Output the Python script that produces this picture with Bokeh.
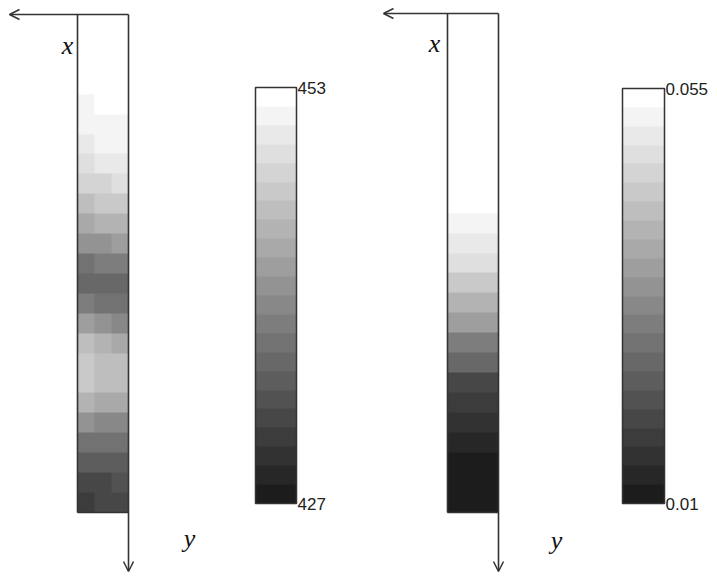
import numpy as np
from bokeh.plotting import figure
from bokeh.models import (Range1d, LinearColorMapper, ColorBar, FixedTicker, Arrow,
                          OpenHead, Label)
from bokeh.embed import file_html
from bokeh.resources import INLINE

# ---- data, rows from top (x axis) to bottom ----
left_range = [427, 453]
left_col_a = [453.0, 453.0, 452.8, 452.0, 451.6, 451.0, 450.2, 449.0, 447.3, 445.2, 442.6, 440.0,
              437.3, 436.4, 438.2, 441.6, 445.0, 446.8, 446.3, 443.8, 440.1, 436.8, 434.3, 432.7, 431.7]
left_col_b = [453.0, 453.0, 453.0, 452.2, 452.0, 451.5, 450.8, 449.7, 448.1, 446.2, 443.6, 440.9,
              437.9, 436.3, 437.4, 440.5, 443.9, 445.8, 445.6, 443.3, 439.9, 436.8, 434.5, 432.9, 431.8]
left_col_c = [453.0, 453.0, 453.0, 452.5, 452.3, 451.8, 451.2, 450.3, 448.8, 446.9, 444.4, 441.5,
              438.4, 436.3, 436.8, 439.5, 442.8, 444.8, 444.9, 442.8, 439.6, 436.7, 434.6, 433.1, 431.9]

right_range = [0.01, 0.055]
right_col = [0.055, 0.055, 0.055, 0.055, 0.055, 0.055, 0.055, 0.055, 0.0544, 0.0530, 0.0517, 0.0497,
             0.0471, 0.0438, 0.0399, 0.0348, 0.0295, 0.0245, 0.0202, 0.0171, 0.0147, 0.0128, 0.0114,
             0.0108, 0.0104]

# ---- styles ----
levels = np.linspace(28, 255, 22).round().astype(int)
palette = ["#%02x%02x%02x" % (g, g, g) for g in levels]
LINE = "#333333"
W, H = 709, 573

p = figure(width=W, height=H, output_backend="svg", toolbar_location=None,
           x_range=Range1d(0, W), y_range=Range1d(H, 0), min_border=0)
p.axis.visible = False
p.grid.visible = False
p.outline_line_color = None


def panel(cols, rng, x0, x1, ytop, ybot, arrow_left, arrow_bottom, cb_x, cb_top, cb_bot, labels,
          xlab, ylab):
    mapper = LinearColorMapper(palette=palette, low=rng[0], high=rng[1])
    arr = np.array(cols).T
    p.image(image=[arr], x=x0, y=ytop, dw=x1 - x0, dh=ybot - ytop, color_mapper=mapper)
    # strip outline
    p.segment(x0=[x0, x0], y0=[ytop, ybot], x1=[x0, x1], y1=[ybot, ybot], line_color=LINE,
              line_width=1.6)
    # axes arrows
    p.add_layout(Arrow(end=OpenHead(size=10, line_color=LINE, line_width=1.5),
                       x_start=x1, y_start=ytop, x_end=arrow_left, y_end=ytop,
                       line_color=LINE, line_width=1.6))
    p.add_layout(Arrow(end=OpenHead(size=10, line_color=LINE, line_width=1.5),
                       x_start=x1, y_start=ytop, x_end=x1, y_end=arrow_bottom,
                       line_color=LINE, line_width=1.6))
    cb = ColorBar(color_mapper=mapper, location=(cb_x[0], H - cb_bot),
                  width=cb_x[1] - cb_x[0], height=cb_bot - cb_top, padding=0,
                  ticker=FixedTicker(ticks=list(rng)), major_tick_line_color=None,
                  minor_tick_line_color=None,
                  major_label_overrides={rng[0]: labels[0], rng[1]: labels[1]},
                  major_label_text_font="Liberation Sans", major_label_text_font_size="17px",
                  major_label_text_color="#222222", label_standoff=1,
                  bar_line_color=LINE, bar_line_width=1.5,
                  background_fill_alpha=0, border_line_color=None)
    p.add_layout(cb)
    for (lx, ly, t) in [(xlab[0], xlab[1], "x"), (ylab[0], ylab[1], "y")]:
        p.add_layout(Label(x=lx, y=ly, text=t, text_font="Liberation Serif",
                           text_font_style="italic", text_font_size="26px",
                           text_color="#111111", text_align="center", text_baseline="alphabetic"))


panel([left_col_a, left_col_b, left_col_c], left_range, 77, 128, 14, 512, 9, 571,
      (255, 296), 87, 503, ("427", "453"), (67, 45), (189, 538))
panel([right_col], right_range, 447, 498, 13, 512, 383, 571,
      (622, 664), 88, 503, ("0.01", "0.055"), (434, 43), (556, 540))

open("out.html", "w").write(file_html(p, INLINE))
